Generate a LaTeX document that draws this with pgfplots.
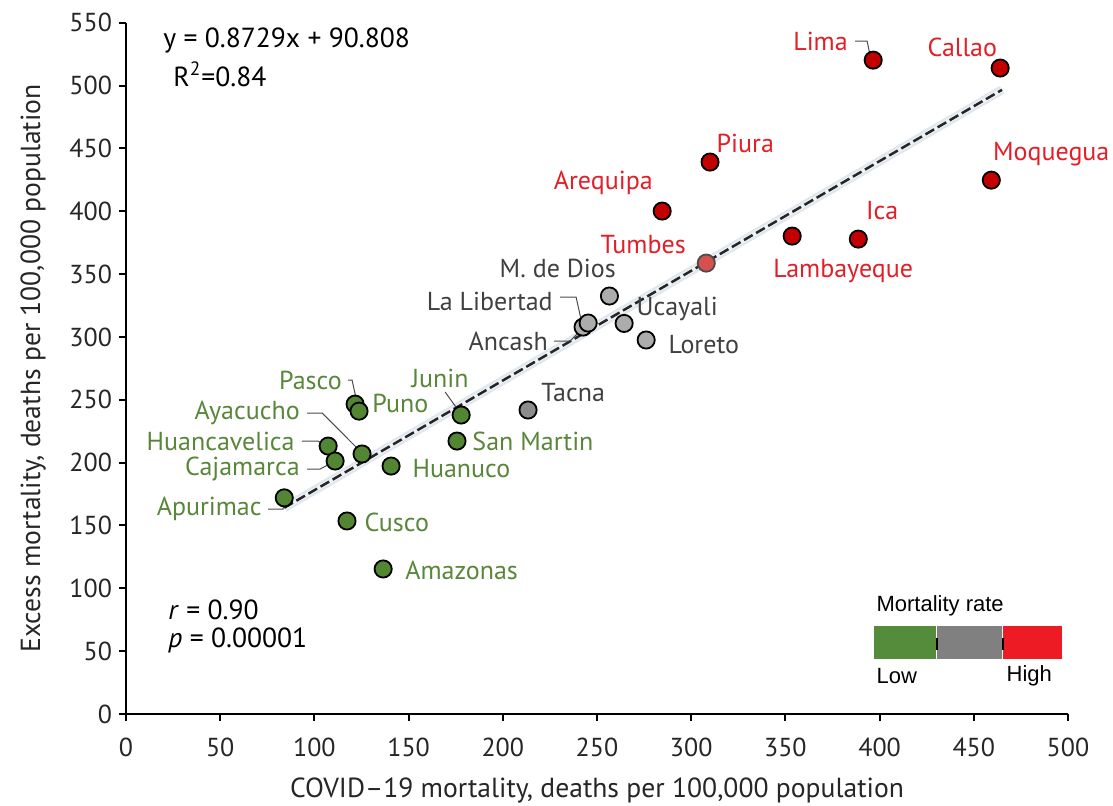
\documentclass[border=0pt]{standalone}
\usepackage{pgfplots}
\pgfplotsset{compat=1.18}
\usepackage{pgfplotstable}
\usepackage{fontspec}
\setmainfont{PT Sans}
\newfontfamily\arial{Liberation Sans}
\definecolor{gfill}{RGB}{82,134,50}
\definecolor{gtext}{RGB}{88,135,58}
\definecolor{grfill}{RGB}{172,172,172}
\definecolor{grdark}{RGB}{140,140,140}
\definecolor{gtxt}{RGB}{64,64,64}
\definecolor{rfill}{RGB}{195,0,0}
\definecolor{rtext}{RGB}{228,30,38}
\definecolor{tfill}{RGB}{214,80,80}
\definecolor{lgreen}{RGB}{84,140,60}
\definecolor{lgrey}{RGB}{128,128,128}
\definecolor{lred}{RGB}{237,28,36}
\definecolor{glow}{RGB}{170,185,205}

\pgfplotstableread{
x y
84 172
117.3 153.6
136.5 115.4
107.3 213.2
111 201.3
125.3 206.9
121.6 246.6
123.7 241
140.7 197.3
175.7 217.2
177.9 237.9
}\greentab
\pgfplotstableread{
x y
242.6 307.9
245.3 311.1
256.6 332.6
264.4 310.8
276.1 297.6
}\greytab
\pgfplotstableread{
x y
213.4 241.9
}\tacnatab
\pgfplotstableread{
x y
284.6 400.2
310 439.2
353.6 380.3
388.7 377.9
396.6 520.3
464 514
459.3 424.8
}\redtab
\pgfplotstableread{
x y
308 358.8
}\tumbestab

\begin{document}
\begin{tikzpicture}[font=\fontsize{13}{15}\selectfont]
\begin{axis}[
  scale only axis,
  width=471pt, height=345.6pt,
  xmin=0, xmax=500, ymin=0, ymax=550,
  axis lines=left,
  axis line style={-, line width=1pt, black},
  every tick/.style={black, line width=1pt},
  tick align=outside,
  major tick length=3.5pt,
  xtick={0,50,...,500},
  ytick={0,50,...,550},
  /pgf/number format/assume math mode=true,
  ticklabel style={font=\fontsize{13}{15}\selectfont, text=black!85},
  xticklabel style={yshift=-5pt},
  xlabel={COVID--19 mortality, deaths per 100,000 population},
  ylabel={Excess mortality, deaths per 100,000 population},
  label style={font=\fontsize{13.8}{15}\selectfont, text=black!85},
  xlabel style={yshift=-3.5pt},
  ylabel style={yshift=5pt},
  clip=false,
]
% markers
\addplot[only marks, mark=*, mark size=4.3pt, mark options={fill=gfill, draw=black, line width=0.9pt}] table {\greentab};
\addplot[only marks, mark=*, mark size=4.3pt, mark options={fill=grfill, draw=black, line width=0.9pt}] table {\greytab};
\addplot[only marks, mark=*, mark size=4.3pt, mark options={fill=grdark, draw=black, line width=0.9pt}] table {\tacnatab};
\addplot[only marks, mark=*, mark size=4.3pt, mark options={fill=rfill, draw=black, line width=0.9pt}] table {\redtab};
\addplot[only marks, mark=*, mark size=4.3pt, mark options={fill=tfill, draw=black!70, line width=0.9pt}] table {\tumbestab};
% regression line
\addplot[glow, opacity=0.35, line width=4.5pt] coordinates {(84,164.1) (465,496.7)};
\addplot[white, opacity=0.5, line width=2.2pt] coordinates {(84,164.1) (465,496.7)};
\addplot[black!85, line width=1.25pt, dash pattern=on 5pt off 2pt] coordinates {(84,164.1) (465,496.7)};

% green labels
\begin{scope}[every node/.style={text=gtext, inner sep=0pt}]
\node[anchor=east] at (axis cs:114.7,265.7) {Pasco};
\node[anchor=west] at (axis cs:130.6,247.4) {Puno};
\node[anchor=east] at (axis cs:92.4,239.5) {Ayacucho};
\node[anchor=east] at (axis cs:89.7,217.2) {Huancavelica};
\node[anchor=east] at (axis cs:92.4,194.9) {Cajamarca};
\node[anchor=east] at (axis cs:72.2,163.1) {Apurimac};
\node[anchor=west] at (axis cs:126.4,152.8) {Cusco};
\node[anchor=west] at (axis cs:148.1,114.6) {Amazonas};
\node[anchor=west] at (axis cs:151.9,195.7) {Huanuco};
\node[anchor=west] at (axis cs:183.7,217.2) {San Martin};
\node at (axis cs:166.7,267.3) {Junin};
\end{scope}
% grey labels
\begin{scope}[every node/.style={text=gtxt, inner sep=0pt}]
\node[anchor=west] at (axis cs:220.3,255.4) {Tacna};
\node[anchor=east] at (axis cs:260.2,354.8) {M. de Dios};
\node[anchor=east] at (axis cs:226.7,328.6) {La Libertad};
\node[anchor=east] at (axis cs:224.1,296.8) {Ancash};
\node[anchor=west] at (axis cs:270.8,322.2) {Ucayali};
\node[anchor=west] at (axis cs:287.8,293.6) {Loreto};
\end{scope}
% red labels
\begin{scope}[every node/.style={text=rtext, inner sep=0pt}]
\node[anchor=east] at (axis cs:383.3,535.4) {Lima};
\node at (axis cs:443.9,530.7) {Callao};
\node[anchor=west] at (axis cs:313.3,454.3) {Piura};
\node at (axis cs:491.1,445.5) {Moquegua};
\node[anchor=east] at (axis cs:279.8,422.5) {Arequipa};
\node at (axis cs:401.4,401) {Ica};
\node[anchor=east] at (axis cs:297.3,373.9) {Tumbes};
\node at (axis cs:380.7,352.8) {Lambayeque};
\end{scope}
% leaders
\begin{scope}[black!70, line width=0.5pt]
\draw (axis cs:117.9,265.7) -- (axis cs:120,265.7) -- (axis cs:122.1,251.4);
\draw (axis cs:96.1,239.5) -- (axis cs:104.1,239.5) -- (axis cs:123.2,210.8);
\draw (axis cs:93.4,217.2) -- (axis cs:101.9,217.2) -- (axis cs:107.3,212.4);
\draw (axis cs:96.1,194.9) -- (axis cs:103,194.9) -- (axis cs:109.9,200.5);
\draw (axis cs:75.4,163.1) -- (axis cs:83.4,163.1) -- (axis cs:84,170);
\draw (axis cs:169.4,256.2) -- (axis cs:177.4,239.5);
\draw (axis cs:230.4,331.8) -- (axis cs:238.9,331.8) -- (axis cs:241.6,313.5);
\draw (axis cs:227.2,296.8) -- (axis cs:235.7,296.8) -- (axis cs:242.6,307.1);
\draw (axis cs:387,535.4) -- (axis cs:393.4,535.4) -- (axis cs:395,523.5);
\end{scope}
% statistics
\begin{scope}[every node/.style={anchor=west, inner sep=0pt, font=\fontsize{13.8}{15}\selectfont}]
\node at (axis cs:19.6,536.2) {y = 0.8729x + 90.808};
\node at (axis cs:25,509.2) {R\textsuperscript{2}=0.84};
\node at (axis cs:22.3,82.7) {\textit{r} = 0.90};
\node at (axis cs:22.3,58.9) {\textit{p} = 0.00001};
\end{scope}
% legend
\fill[lgreen] (axis cs:397.2,43.8) rectangle (axis cs:430.1,70);
\fill[lgrey] (axis cs:430.6,43.8) rectangle (axis cs:465.1,70);
\fill[lred] (axis cs:465.6,43.8) rectangle (axis cs:497,70);
\draw[black, line width=0.8pt] (axis cs:430.35,50.9) -- (axis cs:430.35,60.5);
\draw[black, line width=0.8pt] (axis cs:465.35,50.9) -- (axis cs:465.35,60.5);
\node[anchor=west, inner sep=0pt, font=\arial\fontsize{11}{13}\selectfont] at (axis cs:398.2,85.9) {Mortality rate};
\node[anchor=west, inner sep=0pt, font=\arial\fontsize{11}{13}\selectfont] at (axis cs:398.2,30.2) {Low};
\node[anchor=east, inner sep=0pt, font=\arial\fontsize{11}{13}\selectfont] at (axis cs:491.7,30.2) {High};
\end{axis}
\pgfresetboundingbox
\path (-63pt,-45.5pt) rectangle (493.5pt,357pt);
\end{tikzpicture}
\end{document}
